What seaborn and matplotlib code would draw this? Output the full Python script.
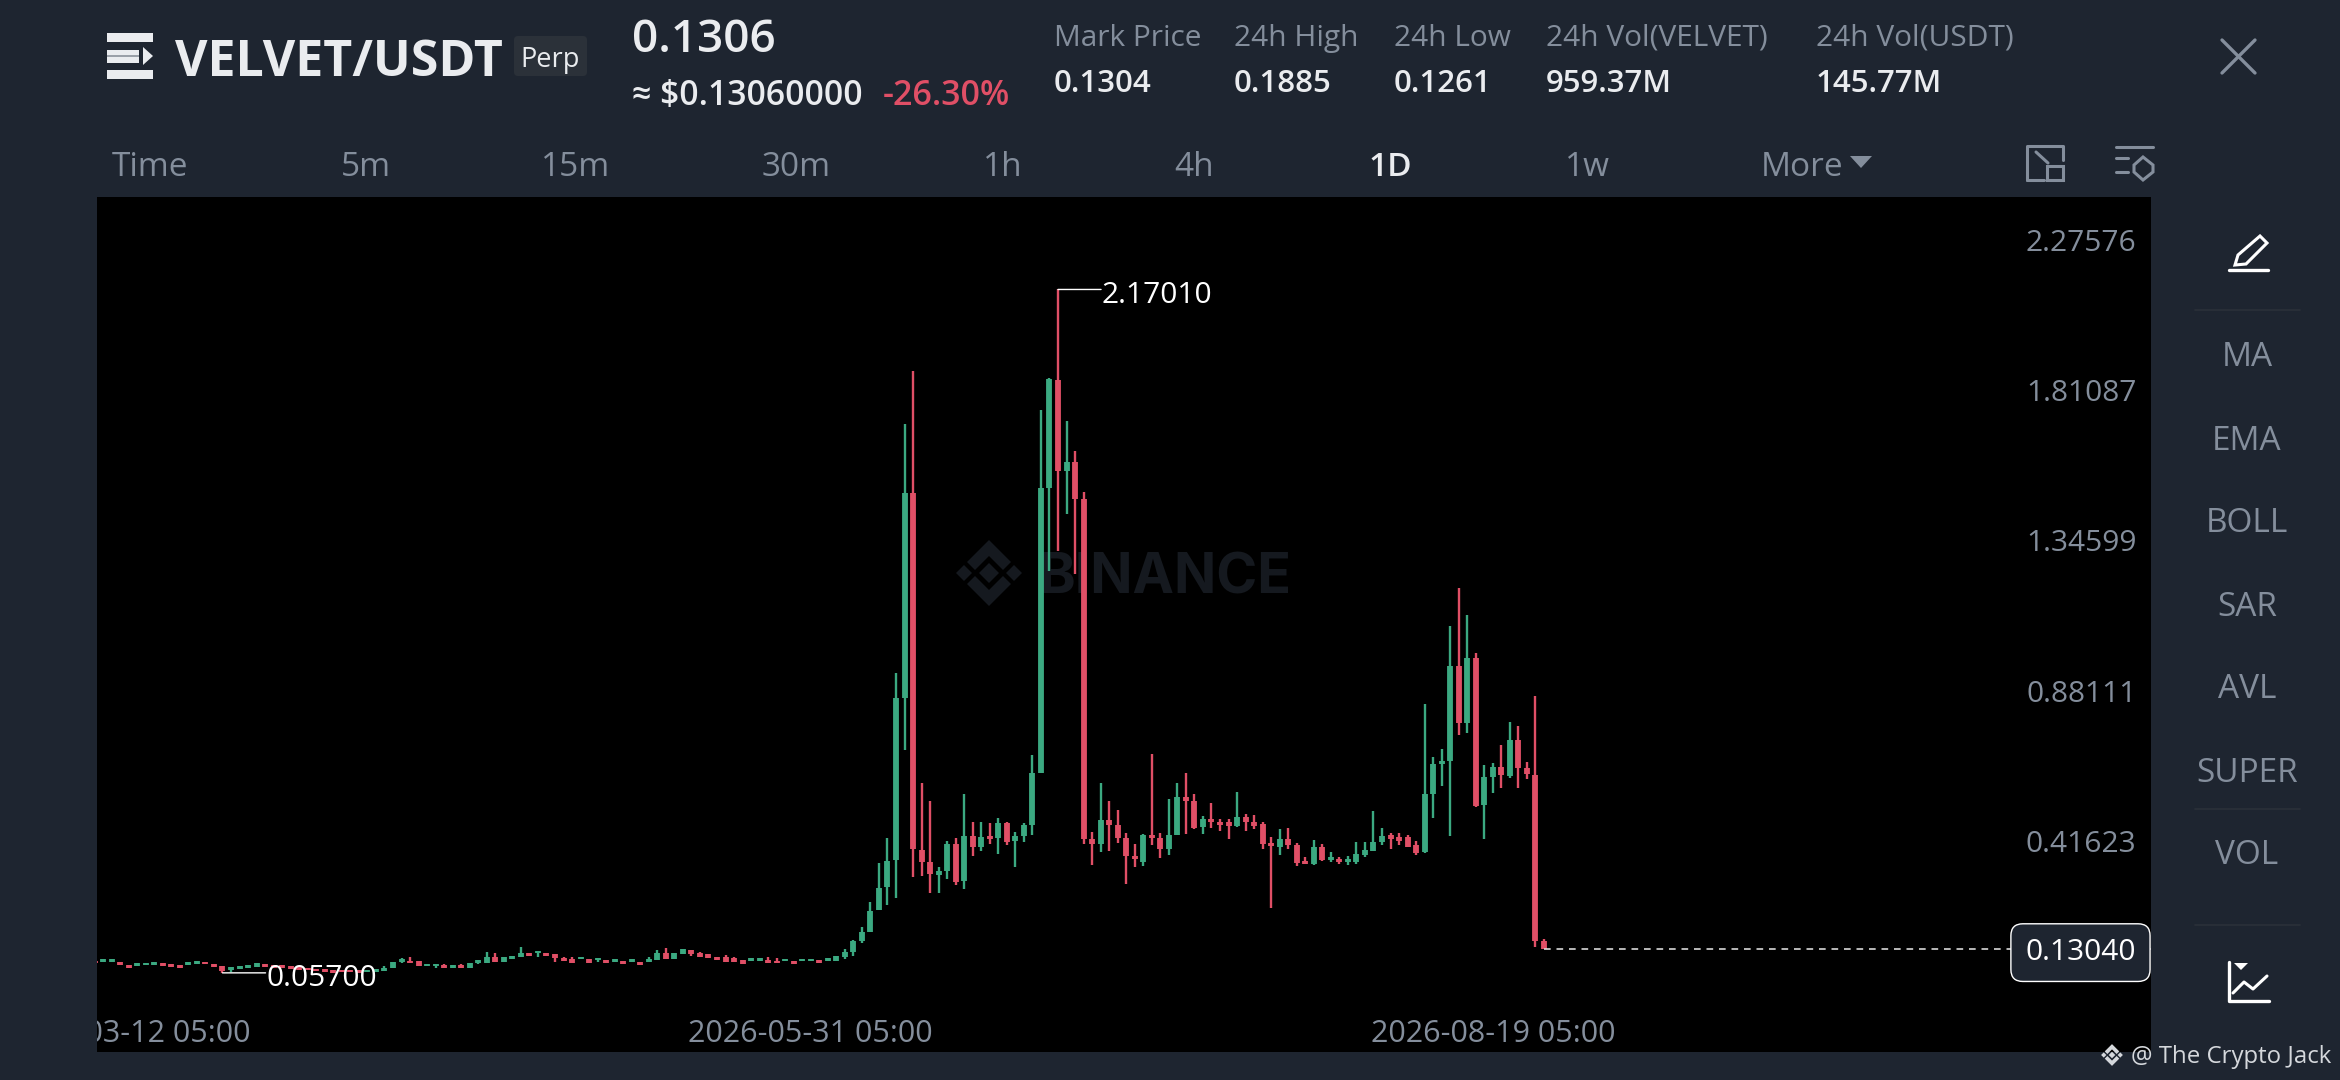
import numpy as np
import pandas as pd
import seaborn as sns
import matplotlib.pyplot as plt
from matplotlib.patches import Rectangle, Polygon, FancyBboxPatch

# Daily candles
open_ = [
    .093, .091, .092, .091, .080, .078, .080, .082, .086, .084,
    .080, .081, .084, .092, .083, .078, .066, .069, .072, .076,
    .083, .081, .081, .077, .075, .073, .070, .068, .066, .065,
    .065, .066, .059, .061, .064, .072, .091, .094, .093, .077,
    .077, .080, .073, .080, .073, .088, .089, .107, .091, .100,
    .107, .118, .117, .118, .115, .104, .099, .099, .099, .096,
    .096, .092, .093, .092, .091, .091, .097, .117, .100, .114,
    .128, .117, .115, .106, .105, .103, .096, .094, .095, .097,
    .095, .093, .095, .093, .093, .098, .094, .094, .105, .120,
    .155, .184, .250, .321, .407, .907, 1.541, .438, .400, .360,
    .371, .454, .341, .481, .446, .481, .475, .521, .465, .481,
    .515, .676, 1.557, 1.890, 1.609, 1.638, 1.522, .471, .455, .529,
    .515, .475, .418, .401, .482, .474, .439, .483, .600, .589,
    .507, .533, .524, .523, .512, .540, .524, .516, .458, .447,
    .470, .451, .402, .394, .445, .406, .410, .400, .401, .422,
    .435, .462, .482, .478, .478, .451, .431, .610, .703, .713,
    1.006, .830, 1.031, .576, .664, .694, .666, .777, .690, .670,
    .156,
]
close = [
    .086, .099, .099, .080, .072, .086, .088, .091, .078, .076,
    .072, .090, .093, .083, .075, .064, .074, .077, .080, .086,
    .075, .073, .073, .069, .067, .065, .062, .060, .058, .059,
    .059, .058, .067, .069, .072, .091, .101, .088, .078, .085,
    .084, .071, .081, .071, .088, .097, .105, .092, .105, .109,
    .119, .109, .126, .109, .102, .094, .089, .107, .089, .104,
    .086, .100, .083, .100, .082, .101, .117, .099, .117, .130,
    .114, .106, .104, .096, .092, .092, .085, .102, .103, .087,
    .086, .101, .085, .101, .101, .088, .102, .109, .122, .156,
    .184, .249, .319, .404, .907, 1.541, .440, .400, .363, .373,
    .454, .337, .481, .446, .478, .470, .521, .462, .481, .513,
    .676, 1.555, 1.892, 1.609, 1.638, 1.522, .471, .455, .529, .515,
    .475, .419, .408, .483, .474, .439, .484, .600, .589, .505,
    .534, .524, .514, .512, .538, .524, .512, .455, .449, .470,
    .451, .398, .394, .445, .406, .416, .400, .408, .425, .437,
    .462, .480, .472, .466, .447, .429, .610, .703, .713, 1.006,
    .830, 1.031, .573, .664, .694, .668, .777, .690, .672, .156,
    .130,
]
high = [
    .093, .099, .099, .091, .080, .086, .088, .091, .086, .084,
    .080, .090, .093, .092, .083, .078, .074, .077, .080, .086,
    .083, .081, .081, .077, .075, .073, .070, .068, .066, .065,
    .065, .066, .067, .069, .077, .091, .103, .107, .093, .085,
    .084, .083, .081, .083, .088, .097, .122, .117, .105, .109,
    .138, .118, .126, .118, .115, .107, .107, .107, .099, .104,
    .096, .100, .093, .100, .091, .105, .128, .133, .117, .130,
    .128, .122, .115, .106, .112, .107, .096, .102, .103, .105,
    .102, .101, .095, .101, .101, .098, .102, .109, .130, .158,
    .198, .277, .397, .474, .983, 1.754, 1.919, .643, .588, .384,
    .465, .474, .610, .525, .523, .521, .537, .523, .494, .521,
    .731, 1.796, 1.896, 2.1701, 1.762, 1.671, 1.543, .494, .644, .588,
    .561, .489, .455, .486, .734, .489, .594, .643, .674, .609,
    .542, .583, .532, .532, .617, .548, .544, .523, .476, .501,
    .505, .459, .416, .468, .455, .431, .414, .418, .461, .463,
    .557, .504, .489, .489, .484, .465, .887, .724, .748, 1.130,
    1.246, 1.164, 1.047, .700, .705, .762, .834, .821, .709, .913,
    .161,
]
low = [
    .086, .091, .092, .080, .072, .078, .080, .082, .078, .076,
    .072, .081, .084, .083, .075, .057, .061, .069, .072, .076,
    .075, .073, .073, .069, .067, .065, .062, .060, .058, .059,
    .059, .058, .059, .061, .064, .072, .088, .088, .078, .077,
    .072, .071, .073, .071, .073, .083, .089, .092, .091, .100,
    .107, .109, .107, .109, .092, .094, .089, .099, .089, .091,
    .086, .092, .083, .092, .082, .091, .097, .099, .100, .114,
    .109, .106, .104, .096, .092, .092, .085, .094, .095, .087,
    .086, .093, .085, .093, .093, .088, .094, .094, .099, .110,
    .148, .184, .250, .266, .288, .746, .354, .357, .304, .304,
    .346, .329, .317, .417, .435, .456, .425, .451, .384, .462,
    .483, .676, 1.301, 1.360, 1.476, 1.289, .454, .392, .431, .435,
    .458, .333, .383, .387, .451, .413, .421, .483, .485, .501,
    .486, .504, .495, .470, .507, .496, .503, .441, .258, .422,
    .441, .387, .394, .391, .404, .399, .394, .391, .395, .414,
    .435, .453, .441, .451, .445, .421, .429, .535, .636, .480,
    .792, .800, .569, .472, .612, .629, .660, .629, .657, .138,
    .130,
]

start_date = "2026-03-08 05:00"
tick_values = [2.27576, 1.81087, 1.34599, 0.88111, 0.41623]
tick_labels = ["2.27576", "1.81087", "1.34599", "0.88111", "0.41623"]
date_ticks = ["2026-03-12 05:00", "2026-05-31 05:00", "2026-08-19 05:00"]
last_price = 0.1304
pair = "VELVET/USDT"
stat_names = ["Mark Price", "24h High", "24h Low", "24h Vol(VELVET)", "24h Vol(USDT)"]
stat_values = ["0.1304", "0.1885", "0.1261", "959.37M", "145.77M"]
tabs = ["Time", "5m", "15m", "30m", "1h", "4h", "1D", "1w", "More"]
side_items = ["MA", "EMA", "BOLL", "SAR", "AVL", "SUPER", "VOL"]

PANEL = "#1e2530"
GREY = "#848e9c"
LIGHT = "#eaecef"
GREEN = "#3ba981"
RED = "#e04f66"
MID = "center_baseline"

sns.set_theme(style="dark")
plt.rcParams["font.family"] = ["Open Sans", "DejaVu Sans"]

dates = pd.date_range(start_date, periods=len(open_), freq="D")
direction = np.where(np.array(close) >= np.array(open_), "up", "down")
palette = {"up": GREEN, "down": RED}

wicks = pd.DataFrame({
    "date": np.repeat(dates, 2),
    "price": np.column_stack([low, high]).ravel(),
    "side": np.repeat(direction, 2),
})
bodies = pd.DataFrame({
    "date": np.repeat(dates, 2),
    "price": np.column_stack([open_, close]).ravel(),
    "side": np.repeat(direction, 2),
})

fig = plt.figure(figsize=(23.4, 10.8), dpi=100, facecolor=PANEL)

# the app chrome is drawn in pixel coordinates behind the chart
bg = fig.add_axes([0, 0, 1, 1], zorder=0)
bg.set_xlim(0, 2340)
bg.set_ylim(1080, 0)
bg.axis("off")
bg.add_patch(Rectangle((97, 197), 2054, 855, color="black", lw=0))


def binance_logo(cx, cy, s, color):
    shapes = [
        [(-10, 0), (0, -10), (10, 0), (0, 10)],
        [(-33, 0), (-25, -8), (-17, 0), (-25, 8)],
        [(33, 0), (25, -8), (17, 0), (25, 8)],
        [(-22, -11), (0, -33), (22, -11), (14, -3), (0, -17), (-14, -3)],
        [(-22, 11), (0, 33), (22, 11), (14, 3), (0, 17), (-14, 3)],
    ]
    for pts in shapes:
        bg.add_patch(Polygon([(cx + x * s, cy + y * s) for x, y in pts], color=color, lw=0))


binance_logo(989, 573, 1.0, "#15191f")
bg.text(1038, 573, "BINANCE", color="#15191f", fontsize=40, fontweight="bold",
        ha="left", va=MID, family="Inter")

# header
for y0, y1 in [(33, 42), (70, 79)]:
    bg.add_patch(Rectangle((107, y0), 46, y1 - y0, color=LIGHT, lw=0))
bg.add_patch(Rectangle((107, 50), 32, 13, color=LIGHT, lw=0))
bg.add_patch(Rectangle((107, 55), 32, 2, color="#9aa0a8", lw=0))
bg.add_patch(Polygon([(143, 47), (153, 56), (143, 65)], color=LIGHT, lw=0))
bg.text(175, 57, pair, color=LIGHT, fontsize=36, fontweight="bold", va=MID)
bg.add_patch(FancyBboxPatch((518, 40), 65, 32, boxstyle="round,pad=4", color="#2b3139", lw=0))
bg.text(550, 57, "Perp", color=LIGHT, fontsize=19.5, ha="center", va=MID)
bg.text(632, 35, "0.1306", color=LIGHT, fontsize=33, fontweight="semibold", va=MID)
bg.text(632, 92, "≈ $0.13060000", color=LIGHT, fontsize=24.3, fontweight="semibold", va=MID)
bg.text(883, 92, "-26.30%", color=RED, fontsize=24.5, fontweight="semibold", va=MID)

for x, name, val in zip([1054, 1234, 1394, 1546, 1816], stat_names, stat_values):
    bg.text(x, 35, name, color=GREY, fontsize=21.5, va=MID)
    bg.text(x, 80, val, color=LIGHT, fontsize=22.5, fontweight="semibold", va=MID)

bg.plot([2222, 2255], [40, 73], color=GREY, lw=2.4)
bg.plot([2222, 2255], [73, 40], color=GREY, lw=2.4)

# interval tabs
for x, tab in zip([150, 366, 576, 796, 1003, 1194, 1390, 1587, 1802], tabs):
    active = tab == "1D"
    bg.text(x, 163, tab, color=LIGHT if active else GREY, fontsize=24, ha="center", va=MID,
            fontweight="semibold" if active else "normal")
bg.add_patch(Polygon([(1850, 156), (1872, 156), (1861, 168)], color=GREY, lw=0))

# layout and settings icons
bg.plot([2027, 2027, 2063, 2063], [180, 146, 146, 160], color=GREY, lw=2.2)
bg.plot([2027, 2044], [180, 180], color=GREY, lw=2.2)
bg.add_patch(Rectangle((2047, 166), 16, 14, fill=False, ec=GREY, lw=2.2))
bg.plot([2036, 2048], [152, 163], color=GREY, lw=2.2)
bg.plot([2116, 2153], [147, 147], color=GREY, lw=2.2)
bg.plot([2116, 2128], [158, 158], color=GREY, lw=2.2)
bg.plot([2116, 2128], [172, 172], color=GREY, lw=2.2)
bg.add_patch(Polygon([(2134, 165), (2143, 157), (2153, 165), (2153, 172), (2143, 180), (2134, 172)],
                     fill=False, ec=GREY, lw=2.2))

# side panel
for y, item in zip([354, 437, 519, 603, 685, 769, 852], side_items):
    bg.text(2247, y, item, color=GREY, fontsize=24, ha="center", va=MID)
for y in [310, 809, 925]:
    bg.plot([2195, 2300], [y, y], color="#2b3139", lw=1.2)
bg.plot([2229, 2268], [270, 270], color="white", lw=2.4)
bg.add_patch(Polygon([(2238, 255), (2260, 236), (2267, 243), (2246, 264), (2235, 265)],
                     fill=False, ec="white", lw=2.2))
bg.plot([2229, 2229, 2269], [962, 1001, 1001], color="white", lw=2.4)
bg.plot([2233, 2244, 2253, 2267], [993, 982, 989, 976], color="white", lw=2.2)
bg.add_patch(Polygon([(2234, 963), (2248, 963), (2241, 970)], color="white", lw=0))

binance_logo(2112, 1055, 0.33, "#d5d8dc")
bg.text(2131, 1054, "@ The Crypto Jack", color="#d5d8dc", fontsize=17.3, va=MID)

# chart
ax = fig.add_axes([97 / 2340, 28 / 1080, 2054 / 2340, 855 / 1080], zorder=1)
ax.patch.set_alpha(0)
sns.lineplot(data=wicks, x="date", y="price", hue="side", units="date", estimator=None,
             palette=palette, linewidth=1.7, solid_capstyle="butt", legend=False, ax=ax)
sns.lineplot(data=bodies, x="date", y="price", hue="side", units="date", estimator=None,
             palette=palette, linewidth=4.2, solid_capstyle="butt", legend=False, ax=ax)

ax.set_xlim(dates[0] + pd.Timedelta(days=0.28), dates[0] + pd.Timedelta(days=241.2))
ax.set_ylim(-0.1877, 2.456)
ax.set_xlabel("")
ax.set_ylabel("")
ax.set_xticks([])
ax.set_yticks([])
sns.despine(ax=ax, left=True, bottom=True)

# price labels sit a little above their level
for val, lab in zip(tick_values, tick_labels):
    ax.annotate(lab, xy=(1, val), xycoords=ax.get_yaxis_transform(), xytext=(-10.5, 11.2),
                textcoords="offset points", color=GREY, fontsize=21.5,
                ha="right", va=MID)

for d in date_ticks:
    ax.text(pd.Timestamp(d), 0.0246, d, transform=ax.get_xaxis_transform(), color=GREY,
            fontsize=22, ha="center", va=MID, clip_on=True)

# high / low markers
i_high = int(np.argmax(high))
i_low = int(np.argmin(low))
for i, val in [(i_high, high[i_high]), (i_low, low[i_low])]:
    ax.annotate("", xy=(dates[i], val), xytext=(31, 0), textcoords="offset points",
                arrowprops=dict(arrowstyle="-", color="white", lw=1, shrinkA=0, shrinkB=0))
    ax.annotate(f"{val:.5f}", xy=(dates[i], val), xytext=(31.5, -1.5), textcoords="offset points",
                color="white", fontsize=21.5, va=MID)

# last price
ax.hlines(last_price, dates[-1], ax.get_xlim()[1], color="#d8d8d8", lw=1.2, linestyles=(0, (4, 3.5)))
ax.annotate(f"{last_price:.5f}", xy=(1, last_price), xycoords=ax.get_yaxis_transform(),
            xytext=(-11, 0), textcoords="offset points", color="white", fontsize=21.5,
            ha="right", va=MID,
            bbox=dict(boxstyle="round,pad=0.48,rounding_size=0.4", fc=PANEL, ec="white", lw=1))

fig.savefig("out.png", dpi=100, facecolor=fig.get_facecolor())
